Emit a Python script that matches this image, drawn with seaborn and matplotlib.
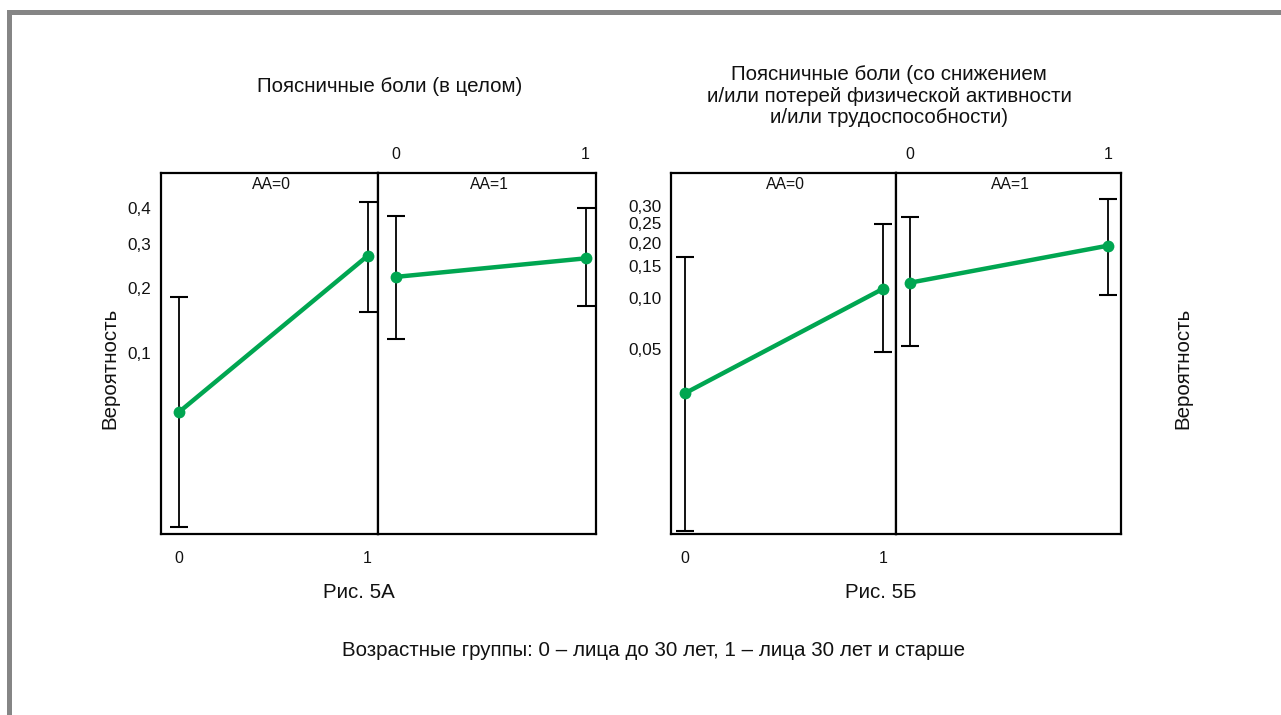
import numpy as np
import pandas as pd
import matplotlib
matplotlib.use("Agg")
import matplotlib.pyplot as plt
import seaborn as sns
from matplotlib.patches import Rectangle

# ---------------- data ----------------
age_groups = [0, 1]
aa_labels = ["AA=0", "AA=1"]

# Fig. 5A  (low back pain overall)
a_aa0_p = [0.051, 0.270]
a_aa0_lo = [0.0129, 0.156]
a_aa0_hi = [0.182, 0.419]
a_aa1_p = [0.222, 0.264]
a_aa1_lo = [0.117, 0.166]
a_aa1_hi = [0.377, 0.400]
a_ticks = [0.1, 0.2, 0.3, 0.4]
a_ticklabels = ["0,1", "0,2", "0,3", "0,4"]

# Fig. 5B  (low back pain with reduced activity / work capacity)
b_aa0_p = [0.0268, 0.113]
b_aa0_lo = [0.00365, 0.0477]
b_aa0_hi = [0.169, 0.247]
b_aa1_p = [0.122, 0.193]
b_aa1_lo = [0.0525, 0.104]
b_aa1_hi = [0.266, 0.321]
b_ticks = [0.05, 0.10, 0.15, 0.20, 0.25, 0.30]
b_ticklabels = ["0,05", "0,10", "0,15", "0,20", "0,25", "0,30"]

title_a = "Поясничные боли (в целом)"
title_b = "Поясничные боли (со снижением\nи/или потерей физической активности\nи/или трудоспособности)"
caption_a = "Рис. 5А"
caption_b = "Рис. 5Б"
footnote = "Возрастные группы: 0 – лица до 30 лет, 1 – лица 30 лет и старше"
ylabel = "Вероятность"

# ---------------- style ----------------
sns.set_theme(style="white")
plt.rcParams['font.family'] = ['Liberation Sans', 'DejaVu Sans']
plt.rcParams['text.color'] = '#111111'
plt.rcParams['xtick.color'] = '#111111'
plt.rcParams['ytick.color'] = '#111111'
GREEN = "#00a651"
W, H = 1281, 715
BIG = 14.8

fig = plt.figure(figsize=(W / 100, H / 100), dpi=100)
fig.patch.set_facecolor("white")


def px_axes(x0, x1, y0, y1):
    return fig.add_axes([x0 / W, 1 - y1 / H, (x1 - x0) / W, (y1 - y0) / H])


def draw_sub(ax, p, lo, hi, label, ylim, xlim, ticks, ticklabels, show_y, xpos):
    p = np.array(p); lo = np.array(lo); hi = np.array(hi)
    df = pd.DataFrame({"age": age_groups, "p": p})
    ax.set_yscale("logit")
    ax.errorbar(df["age"], df["p"], yerr=[p - lo, hi - p], fmt="none",
                ecolor="black", elinewidth=1.3, capsize=6.5, capthick=1.5, zorder=2)
    sns.lineplot(data=df, x="age", y="p", ax=ax, color=GREEN, lw=3.2,
                 marker="o", markersize=8.5, markeredgewidth=0,
                 markerfacecolor=GREEN, zorder=3, legend=False)
    ax.set_ylim(*ylim)
    ax.set_xlim(*xlim)
    ax.yaxis.set_minor_locator(matplotlib.ticker.NullLocator())
    ax.yaxis.set_minor_formatter(matplotlib.ticker.NullFormatter())
    ax.set_yticks(ticks)
    if show_y:
        ax.set_yticklabels(ticklabels)
    else:
        ax.set_yticklabels([])
    ax.tick_params(axis="y", length=0, pad=7, labelsize=12.3)
    ax.set_xticks(age_groups)
    ax.set_xticklabels([str(a) for a in age_groups])
    if xpos == "bottom":
        ax.tick_params(axis="x", length=0, labelsize=11.5, pad=12,
                       bottom=False, top=False, labelbottom=True, labeltop=False)
    else:
        ax.tick_params(axis="x", length=0, labelsize=11.5, pad=8,
                       bottom=False, top=False, labelbottom=False, labeltop=True)
    ax.set_xlabel("")
    ax.set_ylabel("")
    for s in ax.spines.values():
        s.set_visible(True)
        s.set_color("black")
        s.set_linewidth(1.6)
    ax.text(0.51, 0.988, label, transform=ax.transAxes, ha="center", va="top",
            fontsize=11.3)
    ax.grid(False)


# Panel A
ylim_a = (0.0118, 0.507)
xlim_a = (-0.095, 1.055)
axA0 = px_axes(161, 378, 173, 534)
axA1 = px_axes(378, 596, 173, 534)
draw_sub(axA0, a_aa0_p, a_aa0_lo, a_aa0_hi, aa_labels[0], ylim_a, xlim_a,
         a_ticks, a_ticklabels, True, "bottom")
draw_sub(axA1, a_aa1_p, a_aa1_lo, a_aa1_hi, aa_labels[1], ylim_a, xlim_a,
         a_ticks, a_ticklabels, False, "top")

# Panel B
ylim_b = (0.0035, 0.409)
xlim_b = (-0.07, 1.064)
axB0 = px_axes(671, 896, 173, 534)
axB1 = px_axes(896, 1121, 173, 534)
draw_sub(axB0, b_aa0_p, b_aa0_lo, b_aa0_hi, aa_labels[0], ylim_b, xlim_b,
         b_ticks, b_ticklabels, True, "bottom")
draw_sub(axB1, b_aa1_p, b_aa1_lo, b_aa1_hi, aa_labels[1], ylim_b, xlim_b,
         b_ticks, b_ticklabels, False, "top")

# texts
fig.text(390 / W, 1 - 87 / H, title_a, ha="center", va="center", fontsize=BIG)
fig.text(889 / W, 1 - 96 / H, title_b, ha="center", va="center", fontsize=BIG,
         linespacing=1.16)
fig.text(110 / W, 1 - 368 / H, ylabel, rotation=90, ha="center", va="center",
         fontsize=BIG)
fig.text(1183 / W, 1 - 368 / H, ylabel, rotation=90, ha="center", va="center",
         fontsize=BIG)
fig.text(359 / W, 1 - 593 / H, caption_a, ha="center", va="center", fontsize=BIG)
fig.text(881 / W, 1 - 593 / H, caption_b, ha="center", va="center", fontsize=BIG)
fig.text(653 / W, 1 - 651 / H, footnote, ha="center", va="center", fontsize=BIG)

# gray frame (top and left)
fig.add_artist(Rectangle((7 / W, 1 - 15 / H), 1 - 7 / W, 5 / H,
                         transform=fig.transFigure, color="#858585", lw=0))
fig.add_artist(Rectangle((7 / W, 0), 5 / W, 1 - 10 / H,
                         transform=fig.transFigure, color="#858585", lw=0))

fig.savefig("out.png", dpi=100, facecolor="white")
